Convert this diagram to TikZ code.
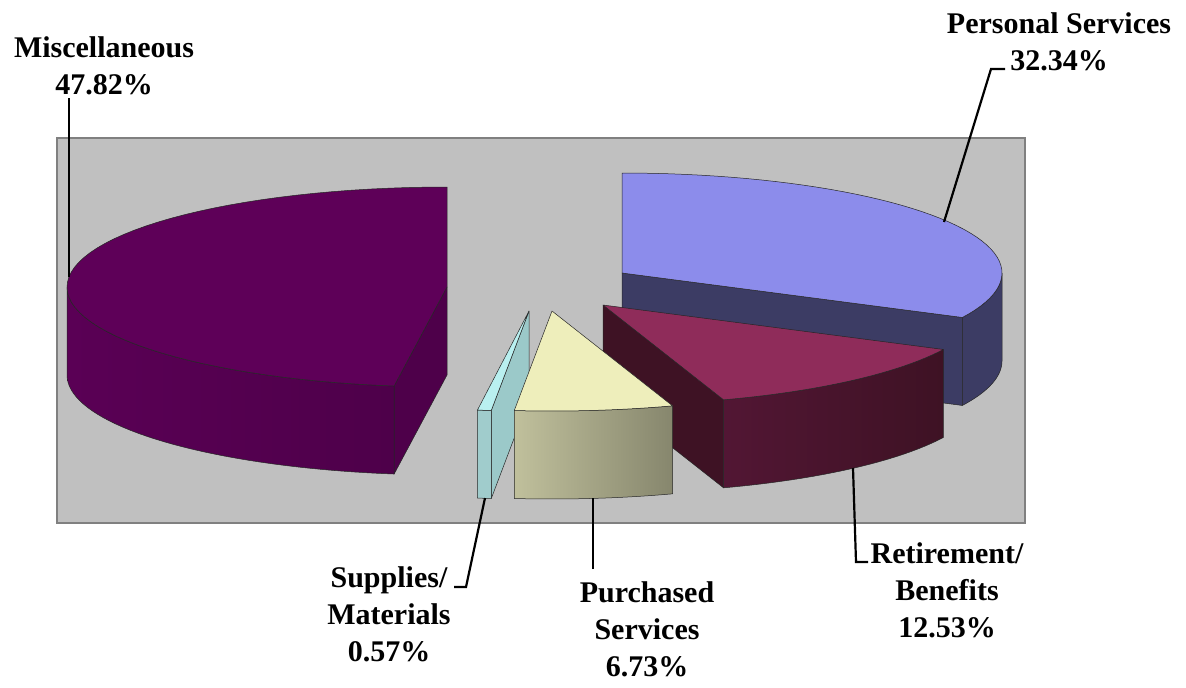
\documentclass[tikz,border=0pt]{standalone}
\usepackage{fontspec}
\setmainfont{Liberation Serif}
\usepackage{tikz}
\usetikzlibrary{positioning}
\definecolor{plotbg}{RGB}{192,192,192}
\definecolor{plotedge}{RGB}{128,128,128}
\definecolor{misctop}{RGB}{94,0,88}
\definecolor{miscside}{RGB}{90,0,85}
\definecolor{miscwall}{RGB}{78,0,74}
\definecolor{perstop}{RGB}{140,140,235}
\definecolor{persside}{RGB}{60,60,100}
\definecolor{rettop}{RGB}{143,44,90}
\definecolor{retside}{RGB}{82,22,52}
\definecolor{retwall}{RGB}{62,18,36}
\definecolor{purtop}{RGB}{238,238,187}
\definecolor{purside}{RGB}{192,192,156}
\definecolor{supptop}{RGB}{185,240,240}
\definecolor{suppside}{RGB}{160,204,204}

\begin{document}
\begin{tikzpicture}[x=1pt,y=-1pt,
    face/.style = {draw=black!85, line width=0.5pt, line join=round},% faces of the slices
    lbl/.style  = {anchor=north, align=center, inner sep=0pt,
                   font=\fontsize{30}{37}\selectfont\bfseries},
    lead/.style = {line width=2.2pt, line join=miter},
                        ]
\useasboundingbox (0,0) rectangle (1186,688);
\fill[white] (0,0) rectangle (1186,688);
\draw[draw=plotedge, fill=plotbg, line width=2pt] (57,138) rectangle (1025,523);

% Personal Services
\begin{scope}[shift={(622,273)}]
  \draw[face, fill=persside] (0,0) -- ({380*cos(-26.4)},{-100*sin(-26.4)}) -- ++(0,88) -- (0,88) -- cycle;
  \draw[face, fill=persside] plot[domain=-26.4:0] ({380*cos(\x)},{-100*sin(\x)})
        -- plot[domain=0:-26.4] ({380*cos(\x)},{88-100*sin(\x)}) -- cycle;
  \draw[face, fill=perstop] (0,0) -- plot[domain=-26.4:90, samples=50] ({380*cos(\x)},{-100*sin(\x)}) -- cycle;
\end{scope}

% Miscellaneous
\begin{scope}[shift={(447,287)}]
  \draw[face, fill=miscwall] (0,0) -- ({380*cos(262)},{-100*sin(262)}) -- ++(0,88) -- (0,88) -- cycle;
  \draw[face, left color=miscside, right color=miscwall] plot[domain=180:262, samples=40] ({380*cos(\x)},{-100*sin(\x)})
        -- plot[domain=262:180, samples=40] ({380*cos(\x)},{88-100*sin(\x)}) -- cycle;
  \draw[face, fill=misctop] (0,0) -- plot[domain=90:262, samples=60] ({380*cos(\x)},{-100*sin(\x)}) -- cycle;
\end{scope}

% Retirement/Benefits
\begin{scope}[shift={(603,305)}]
  \draw[face, fill=retwall] (0,0) -- ({380*cos(-71.5)},{-100*sin(-71.5)}) -- ++(0,88) -- (0,88) -- cycle;
  \draw[face, left color=retside, right color=retwall] plot[domain=-71.5:-26.4] ({380*cos(\x)},{-100*sin(\x)})
        -- plot[domain=-26.4:-71.5] ({380*cos(\x)},{88-100*sin(\x)}) -- cycle;
  \draw[face, fill=rettop] (0,0) -- plot[domain=-71.5:-26.4] ({380*cos(\x)},{-100*sin(\x)}) -- cycle;
\end{scope}

% Supplies/Materials
\begin{scope}[shift={(529,311)}]
  \draw[face, fill=suppside!105] (0,0) -- ({380*cos(-95.7)},{-100*sin(-95.7)}) -- ++(0,88) -- (0,88) -- cycle;
  \draw[face, fill=suppside] plot[domain=-97.8:-95.7, samples=5] ({380*cos(\x)},{-100*sin(\x)})
        -- plot[domain=-95.7:-97.8, samples=5] ({380*cos(\x)},{88-100*sin(\x)}) -- cycle;
  \draw[face, fill=supptop] (0,0) -- plot[domain=-97.8:-95.7, samples=5] ({380*cos(\x)},{-100*sin(\x)}) -- cycle;
\end{scope}

% Purchased Services
\begin{scope}[shift={(552,311)}]
  \draw[face, left color=purside, right color=purside!70!black] plot[domain=-95.7:-71.5] ({380*cos(\x)},{-100*sin(\x)})
        -- plot[domain=-71.5:-95.7] ({380*cos(\x)},{88-100*sin(\x)}) -- cycle;
  \draw[face, fill=purtop] (0,0) -- plot[domain=-95.7:-71.5] ({380*cos(\x)},{-100*sin(\x)}) -- cycle;
\end{scope}

% labels
\node[lbl] (misc)   at (104,36)  {Miscellaneous\\47.82\%};
\node[lbl] (pers)   at (1059,12) {Personal Services\\32.34\%};
\node[lbl] (retire) at (947,542) {Retirement/\\Benefits\\12.53\%};
\node[lbl] (purch)  at (647,581) {Purchased\\Services\\6.73\%};
\node[lbl] (suppl)  at (389,566) {Supplies/\\Materials\\0.57\%};

% leader lines
\coordinate (miscA) at (69,98);   \coordinate (miscB) at (69,277);
\coordinate (persA) at (1005,69); \coordinate (persK) at (991,69);  \coordinate (persB) at (944,222);
\coordinate (retA)  at (868,562); \coordinate (retK)  at (856,562); \coordinate (retB)  at (853,468);
\coordinate (purA)  at (593,569); \coordinate (purB)  at (593,498);
\coordinate (supA)  at (454,587); \coordinate (supK)  at (466,587); \coordinate (supB)  at (485,498);
\draw[lead] (miscA) -- (miscB);
\draw[lead] (persA) -- (persK) -- (persB);
\draw[lead] (retA) -- (retK) -- (retB);
\draw[lead] (purA) -- (purB);
\draw[lead] (supA) -- (supK) -- (supB);
\end{tikzpicture}
\end{document}
